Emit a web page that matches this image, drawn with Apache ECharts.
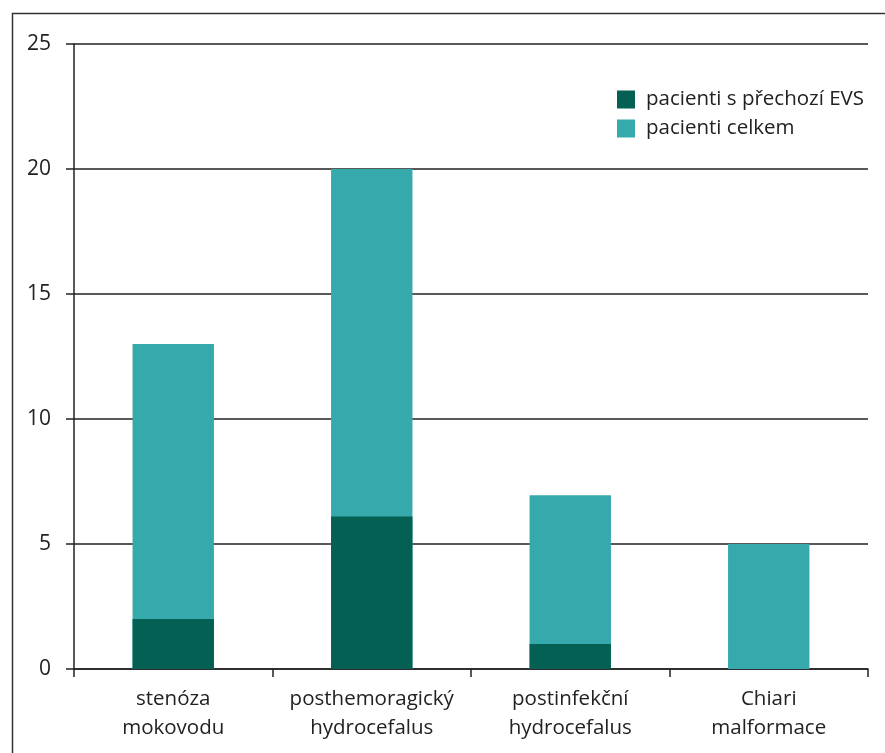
<!DOCTYPE html>
<html><head><meta charset="utf-8">
<script src="https://cdn.jsdelivr.net/npm/echarts@6/dist/echarts.min.js"></script>
<style>html,body{margin:0;padding:0;background:#fff}#c{width:885px;height:753px}</style>
</head><body><div id="c"></div>
<script>
const categories = ['stenóza\nmokovodu', 'posthemoragický\nhydrocefalus', 'postinfekční\nhydrocefalus', 'Chiari\nmalformace'];
const evsValues = [2, 6.1, 1, 0];
const totalValues = [13, 20, 6.95, 5];
const yTicks = { min: 0, max: 25, interval: 5 };
const seriesNames = ['pacienti s přechozí EVS', 'pacienti celkem'];

const chart = echarts.init(document.getElementById('c'), null, { renderer: 'canvas' });
const font = '"Open Sans", "Noto Sans", sans-serif';
chart.setOption({
  animation: false,
  backgroundColor: '#fff',
  graphic: [{
    type: 'rect', left: 10, top: 11, shape: { width: 874, height: 760 },
    style: { fill: 'none', stroke: '#333', lineWidth: 1.5 }, silent: true, z: 100
  }],
  grid: { left: 74, right: 17, top: 44, bottom: 84 },
  legend: {
    data: seriesNames, orient: 'vertical', left: 612, top: 84,
    itemWidth: 18, itemHeight: 18, itemGap: 8, icon: 'rect',
    textStyle: { fontFamily: font, fontSize: 20.5, color: '#222', padding: [0, 0, 0, 6] }
  },
  xAxis: {
    type: 'category', data: categories,
    axisLine: { lineStyle: { color: '#222', width: 1.5 } },
    axisTick: { show: true, interval: 0, length: 8, lineStyle: { color: '#222', width: 1.5 } },
    axisLabel: { interval: 0, hideOverlap: false, fontFamily: font, fontSize: 20.5, color: '#222', lineHeight: 29, margin: 16 }
  },
  yAxis: {
    type: 'value', min: yTicks.min, max: yTicks.max, interval: yTicks.interval,
    axisLine: { show: true, lineStyle: { color: '#222', width: 1.5 } },
    axisTick: { show: true, length: 8, lineStyle: { color: '#222', width: 1.5 } },
    axisLabel: { fontFamily: font, fontSize: 21, color: '#222', margin: 23 },
    splitLine: { lineStyle: { color: '#222', width: 1.5 } }
  },
  series: [
    { name: seriesNames[1], type: 'bar', data: totalValues, barWidth: '41%', barGap: '-100%',
      itemStyle: { color: '#36a9ac' }, z: 2 },
    { name: seriesNames[0], type: 'bar', data: evsValues, barWidth: '41%', barGap: '-100%',
      itemStyle: { color: '#036052' }, z: 3 }
  ]
});
</script></body></html>
